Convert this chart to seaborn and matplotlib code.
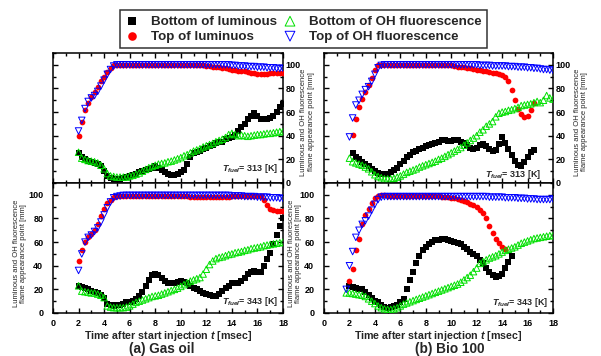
import numpy as np
import pandas as pd
import matplotlib
matplotlib.use("Agg")
import matplotlib.pyplot as plt
from matplotlib.ticker import MultipleLocator
import seaborn as sns

nan = np.nan

# ---------------- data (time grid in msec, values in mm) ----------------
T = [1.75,
     2.0, 2.25, 2.5, 2.75, 3.0, 3.25, 3.5, 3.75,
     4.0, 4.25, 4.5, 4.75, 5.0, 5.25, 5.5, 5.75,
     6.0, 6.25, 6.5, 6.75, 7.0, 7.25, 7.5, 7.75,
     8.0, 8.25, 8.5, 8.75, 9.0, 9.25, 9.5, 9.75,
     10.0, 10.25, 10.5, 10.75, 11.0, 11.25, 11.5, 11.75,
     12.0, 12.25, 12.5, 12.75, 13.0, 13.25, 13.5, 13.75,
     14.0, 14.25, 14.5, 14.75, 15.0, 15.25, 15.5, 15.75,
     16.0, 16.25, 16.5, 16.75, 17.0, 17.25, 17.5, 17.75,
     18.0]

SERIES = ["Bottom of luminous", "Top of luminuos",
          "Bottom of OH fluorescence", "Top of OH fluorescence"]

# (a) Gas oil, T_fuel = 313 K
gas313_bot_lum = [nan,
    25, 22, 20, 19, 18, 17, 16, 14.5,
    10, 6, 4, 3, 3, 3.5, 4, 5,
    6, 7, 8, 9, 10, 11, 12, 13,
    14, 13, 11, 9, 8, 7, 7, 8,
    9, 11, 16, 22, 25, 26, 27.5, 29,
    30, 31, 32, 34, 35, 35, 37, 38,
    39, 41, 44, 47, 50, 54, 57, 59,
    57, 54, 54, 54, 55, 57, 60, 64,
    67]
gas313_top_lum = [nan,
    40, 52, 62, 68, 73, 77, 81, 86,
    90, 94, 97.5, 99.5, 100, 100, 100, 100,
    100, 100, 100, 100, 100, 100, 100, 100,
    100, 100, 100, 100, 100, 100, 100, 100,
    100, 100, 100, 100, 100, 100, 100, 100,
    99, 99, 98.5, 98.5, 98, 97.5, 97, 96.5,
    96, 95.5, 95, 95, 94.5, 94, 93.5, 93,
    92.5, 92, 92, 92.5, 93, 93, 93, 93.5,
    93.5]
gas313_bot_oh = [nan,
    26, 21, 20, 19, 18.5, 18, 17, 15,
    12, 8, 6, 5.5, 5, 5, 5, 5,
    6, 6.5, 7.5, 8.5, 10, 11.5, 13, 14,
    15, 16, 16.5, 17, 18, 18.5, 19.5, 20.5,
    21.5, 23, 24, 25.5, 27, 28, 29, 30.5,
    31.5, 32.5, 33.5, 35, 36, 37, 38.5, 41,
    42, 41, 40, 40.5, 40, 39.5, 40, 40.5,
    41, 41, 41.5, 42, 42, 42.5, 43, 43.5,
    43.5]
gas313_top_oh = [nan,
    44, 53, 63, 69, 72, 74, 77.5, 82,
    87, 92, 96, 99, 100, 100, 100, 100,
    100, 100, 100, 100, 100, 100, 100, 100,
    100, 100, 100, 100, 100, 100, 100, 100,
    100, 100, 100, 100, 100, 100, 100, 100,
    100, 100, 100, 100, 100, 100, 100, 100,
    99.5, 99.5, 99, 99, 99, 98.5, 98.5, 98.5,
    98, 98, 98, 97.5, 97.5, 97.5, 97, 97,
    97]

# (a) Gas oil, T_fuel = 343 K
gas343_bot_lum = [nan,
    23, 22, 21, 20, 19, 18, 17, 15.5,
    13, 8, 6.5, 6, 6.5, 7, 8, 9,
    9.5, 10.5, 12, 14, 18, 23, 28, 32,
    33, 32, 29.5, 27, 25.5, 25, 25.5, 26,
    27, 26.5, 25.5, 23, 21, 20, 18.5, 17,
    16, 15, 14, 14.5, 16.5, 19, 21, 23,
    25, 25.5, 25.5, 27, 30, 33, 35, 35.5,
    35, 35, 40, 46, 51, 58, 66, 74,
    80]
gas343_top_lum = [nan,
    44, 53, 60, 64, 67, 70, 75, 82,
    88, 93, 96, 98.5, 99, 99, 99, 99,
    99, 99, 99, 99, 99, 99, 99, 99,
    99, 99, 99, 99, 99, 99, 99, 99,
    99, 99, 99, 98.5, 98.5, 98.5, 98.5, 98.5,
    98.5, 98.5, 98.5, 98.5, 98.5, 98.5, 98.5, 98.5,
    99, 99, 99, 99, 99, 99, 99, 99,
    99, 99, 96, 91, 88, 87, 86.5, 86,
    86]
gas343_bot_oh = [nan,
    23, 18.5, 18, 17.5, 17, 17, 16, 15,
    13, 6, 5, 4.5, 4.5, 4.5, 4.5, 5,
    6, 7.5, 9, 10, 11, 12, 13, 14,
    14.5, 15, 16, 17, 18, 19, 20, 21,
    22.5, 24, 25.5, 27, 28, 29, 30, 33,
    37, 41, 44, 46, 47, 47.5, 48.5, 49.5,
    50, 51, 51.5, 52, 53, 53.5, 54.5, 55,
    55.5, 56, 57, 57.5, 58, 58.5, 59, 59.5,
    60]
gas343_top_oh = [nan,
    36, 50, 60, 64, 66, 69, 72, 77,
    83, 89, 94, 97.5, 98.5, 99, 99.5, 99.5,
    99.5, 99.5, 99.5, 99.5, 99.5, 99.5, 99.5, 99.5,
    99.5, 99.5, 99.5, 99.5, 99.5, 99.5, 99.5, 99.5,
    99.5, 99.5, 99.5, 99.5, 99.5, 99.5, 99.5, 99.5,
    99.5, 99.5, 99.5, 99.5, 99.5, 99.5, 99.5, 99.5,
    99, 99, 99, 99, 98.5, 98.5, 98.5, 98.5,
    98, 98, 98, 98, 97.5, 97.5, 97.5, 97,
    97]

# (b) Bio 100, T_fuel = 313 K
bio313_bot_lum = [nan,
    nan, 25, 22, 20, 18, 16.5, 14, 12,
    10, 8.5, 7.5, 7.5, 8, 9.5, 11, 13,
    16, 19, 22, 24, 26, 27.5, 29, 30,
    31, 32, 33, 34, 35, 36, 36, 35.5,
    35.5, 36, 36.5, 35, 34, 32, 30, 29,
    30, 32, 33, 31, 29, 27.5, 28, 33,
    39, 34, 29, 24, 19, 15, 14, 18,
    22, 26, 28]
bio313_top_lum = [nan,
    nan, 41, 54, 64, 71, 77, 83, 89,
    96, 99.5, 100, 100, 100, 100, 100, 100,
    100, 100, 100, 100, 100, 100, 100, 100,
    100, 100, 100, 100, 100, 100, 100, 100,
    99.5, 99, 98.5, 98.5, 98, 97.5, 97, 96.5,
    96, 95.5, 95, 94.5, 94, 93.5, 93, 92,
    91, 89.5, 86, 79, 70, 63, 58, 56,
    57, 62, 68]
bio313_bot_oh = [nan,
    21, 18, 17, 16, 15, 13.5, 12, 9.5,
    7, 5.5, 4.5, 3.5, 3.5, 3.5, 4, 5,
    6, 7.5, 9, 10, 11, 12, 13.5, 14.5,
    15.5, 16.5, 17.5, 18.5, 20, 21, 22.5, 24,
    25.5, 27, 28.5, 30, 32, 34, 36, 38,
    40, 43, 45, 48, 50, 52, 56, 59,
    60, 60.5, 61.5, 62, 63, 64, 65.5, 66,
    66.5, 67, 68, 69, 68, 70, 74, 72,
    71]
bio313_top_oh = [nan,
    39, 55, 66, 70, 75, 79, 81.5, 86,
    92, 97.5, 99.5, 100, 100, 100, 100, 100,
    100, 100, 100, 100, 100, 100, 100, 100,
    100, 100, 100, 100, 100, 100, 100, 100,
    100, 100, 100, 100, 100, 100, 100, 100,
    100, 99.5, 99.5, 99.5, 99.5, 99, 99, 99,
    99, 99, 98.5, 98.5, 98.5, 98, 98, 98,
    97.5, 97.5, 97, 97, 96.5, 96, 96, 95.5,
    95.5]

# (b) Bio 100, T_fuel = 343 K
bio343_bot_lum = [nan,
    23, 22, 21, 20.5, 20, 18, 15, 12.5,
    10.5, 9, 7, 5, 4.5, 5, 6, 7,
    9, 12, 20, 28, 35, 42, 48, 53,
    56, 58, 60, 61.5, 62, 63, 63, 62,
    61, 60.5, 59.5, 58, 56, 54, 52, 50,
    48.5, 45, 42, 38, 35, 32, 30.5, 31,
    33, 38, 43, 48]
bio343_top_lum = [nan,
    27, 37, 53, 63, 75, 83, 88, 93,
    97, 99, 100, 99.5, 99, 99, 99, 99,
    99, 99, 99, 99, 99, 99, 99, 99,
    99, 99, 99, 99, 99, 98.5, 98.5, 98,
    97.5, 97, 96.5, 96, 95, 94, 92.5, 91,
    89.5, 87.5, 85, 80, 74, 68, 63, 59,
    55.5, 54]
bio343_bot_oh = [17,
    17, 16.5, 16, 15.5, 15, 14, 12, 10,
    8, 6, 4.5, 3.5, 3, 3, 3.5, 4.5,
    6, 7.5, 8.5, 9.5, 10.5, 11.5, 12.5, 13.5,
    14.5, 15.5, 16.5, 17.5, 18.5, 19.5, 20.5, 21.5,
    22.5, 23.5, 24.5, 26, 28, 30, 32, 35,
    38, 42, 43.5, 45, 46.5, 47.5, 48.5, 50,
    51.5, 53, 54, 55, 56, 57.5, 59, 60,
    61, 62, 63, 63.5, 64, 64.5, 65, 65.5,
    65.5]
bio343_top_oh = [20,
    40, 52, 64, 70, 75, 78, 82, 87,
    92, 96, 98, 98.5, 98.5, 98.5, 98.5, 98.5,
    98.5, 98.5, 98.5, 98.5, 98.5, 98.5, 98.5, 98.5,
    98.5, 98.5, 98.5, 98.5, 98.5, 98.5, 98.5, 98.5,
    98.5, 98.5, 98.5, 98.5, 98.5, 98.5, 98.5, 98.5,
    98.5, 98.5, 98.5, 98.5, 98, 98, 98, 98,
    98, 97.5, 97.5, 97.5, 97.5, 97, 97, 97,
    96.5, 96.5, 96.5, 96, 96, 96, 96, 96,
    96.5]

PANELS = {
    "gas313": [gas313_bot_lum, gas313_top_lum, gas313_bot_oh, gas313_top_oh],
    "gas343": [gas343_bot_lum, gas343_top_lum, gas343_bot_oh, gas343_top_oh],
    "bio313": [bio313_bot_lum, bio313_top_lum, bio313_bot_oh, bio313_top_oh],
    "bio343": [bio343_bot_lum, bio343_top_lum, bio343_bot_oh, bio343_top_oh],
}
TFUEL = {"gas313": "313", "gas343": "343", "bio313": "313", "bio343": "343"}

rows = []
for pkey, lists in PANELS.items():
    for sname, vals in zip(SERIES, lists):
        vals = list(vals) + [nan] * (len(T) - len(vals))
        for t, v in zip(T, vals):
            rows.append((pkey, sname, t, v))
df = pd.DataFrame(rows, columns=["panel", "series", "t", "mm"]).dropna()

# ---------------- style ----------------
sns.set_theme(style="ticks")
plt.rcParams["font.family"] = ["Liberation Sans", "DejaVu Sans"]
plt.rcParams["font.weight"] = "bold"
plt.rcParams["mathtext.fontset"] = "custom"
plt.rcParams["mathtext.it"] = "Liberation Sans:italic:bold"
plt.rcParams["mathtext.rm"] = "Liberation Sans:bold"
plt.rcParams["mathtext.bf"] = "Liberation Sans:bold"
plt.rcParams["axes.linewidth"] = 1.1

GREEN = "#00e000"
STYLES = {
    "Bottom of luminous": dict(marker="s", color="black", edgecolor="black", s=14, linewidth=0),
    "Top of luminuos": dict(marker="o", color="red", edgecolor="red", s=17, linewidth=0),
    "Bottom of OH fluorescence": dict(marker="^", color=GREEN, facecolors="none",
                                      edgecolor=GREEN, s=22, linewidth=0.7),
    "Top of OH fluorescence": dict(marker="v", color="blue", facecolors="none",
                                   edgecolor="blue", s=22, linewidth=0.7),
}

W, H = 601, 356
fig = plt.figure(figsize=(W / 100, H / 100), dpi=100)
fig.patch.set_facecolor("white")

def fx(px):
    return px / W

def fy(py):
    return 1 - py / H

pos = {
    "gas313": [fx(53), fy(183), 230 / W, 130 / H],
    "gas343": [fx(53), fy(313), 230 / W, 130 / H],
    "bio313": [fx(324), fy(183), 229 / W, 130 / H],
    "bio343": [fx(324), fy(313), 229 / W, 130 / H],
}
ylab = "Luminous and OH fluorescence\nflame appearance point [mm]"
tfuel_xy = {"gas313": (17.6, 12), "gas343": (17.6, 9.5),
            "bio313": (17.1, 7), "bio343": (17.6, 8.5)}

axes = {}
for pkey in PANELS:
    ax = fig.add_axes(pos[pkey])
    axes[pkey] = ax
    sub = df[df.panel == pkey]
    for sname in SERIES:
        ss = sub[sub.series == sname]
        sns.scatterplot(data=ss, x="t", y="mm", ax=ax, label=sname, legend=False,
                        zorder=3, **STYLES[sname])
    ax.set_xlim(0, 18)
    ax.set_ylim(0, 110)
    ax.xaxis.set_major_locator(MultipleLocator(2))
    ax.xaxis.set_minor_locator(MultipleLocator(1))
    ax.yaxis.set_major_locator(MultipleLocator(20))
    ax.yaxis.set_minor_locator(MultipleLocator(10))
    ax.tick_params(which="both", direction="in", top=True, bottom=True,
                   left=True, right=True, width=1.0, colors="black",
                   labelsize=6.5)
    ax.tick_params(which="major", length=3.5)
    ax.tick_params(which="minor", length=2.2)
    for sp in ax.spines.values():
        sp.set_color("black")
        sp.set_linewidth(1.1)
    ax.set_facecolor("white")
    ax.grid(False)
    top = pkey.endswith("313")
    if top:
        ax.tick_params(labelbottom=False, labelleft=False, labelright=True, pad=2)
        ax.set_xlabel("")
        ax.yaxis.set_label_position("right")
    else:
        ax.tick_params(axis="y", labelleft=True, labelright=False, pad=7)
        ax.tick_params(axis="x", labelbottom=True, pad=4)
        ax.set_xlabel(r"Time after start injection $t$ [msec]", fontsize=7.7,
                      fontweight="bold", labelpad=1)
    ax.set_ylabel(ylab, fontsize=5.5, fontweight="normal", linespacing=1.1)
    ax.yaxis.label.set_verticalalignment("center")
    ax.yaxis.label.set_horizontalalignment("center")
    tx, ty = tfuel_xy[pkey]
    ax.text(tx, ty, r"$T_{fuel}$= " + TFUEL[pkey] + " [K]", ha="right", va="center",
            fontsize=6.5, fontweight="bold", zorder=5)

axes["gas313"].yaxis.set_label_coords((307.5 - 53) / 230, 0.47)
axes["bio313"].yaxis.set_label_coords((581 - 324) / 229, 0.47)
axes["gas343"].yaxis.set_label_coords((20 - 53) / 230, 0.46)
axes["bio343"].yaxis.set_label_coords((295 - 324) / 229, 0.46)

fig.text(fx(162), fy(353.5), "(a) Gas oil", ha="center", va="baseline",
         fontsize=9.8, fontweight="bold")
fig.text(fx(450), fy(353.5), "(b) Bio 100", ha="center", va="baseline",
         fontsize=9.8, fontweight="bold")

handles, labels = axes["gas313"].get_legend_handles_labels()
leg = fig.legend(handles, labels, ncol=2, loc="upper left",
                 bbox_to_anchor=(fx(120), fy(10)), borderaxespad=0,
                 frameon=True, fancybox=False, edgecolor="black",
                 prop={"size": 9.6, "weight": "bold"}, markerscale=1.5,
                 handlelength=1.0, handletextpad=0.9, columnspacing=0.5,
                 labelspacing=0.2, borderpad=0.4)
leg.get_frame().set_linewidth(1.1)
leg.set_zorder(10)

fig.savefig("out.png", dpi=100, facecolor="white")
